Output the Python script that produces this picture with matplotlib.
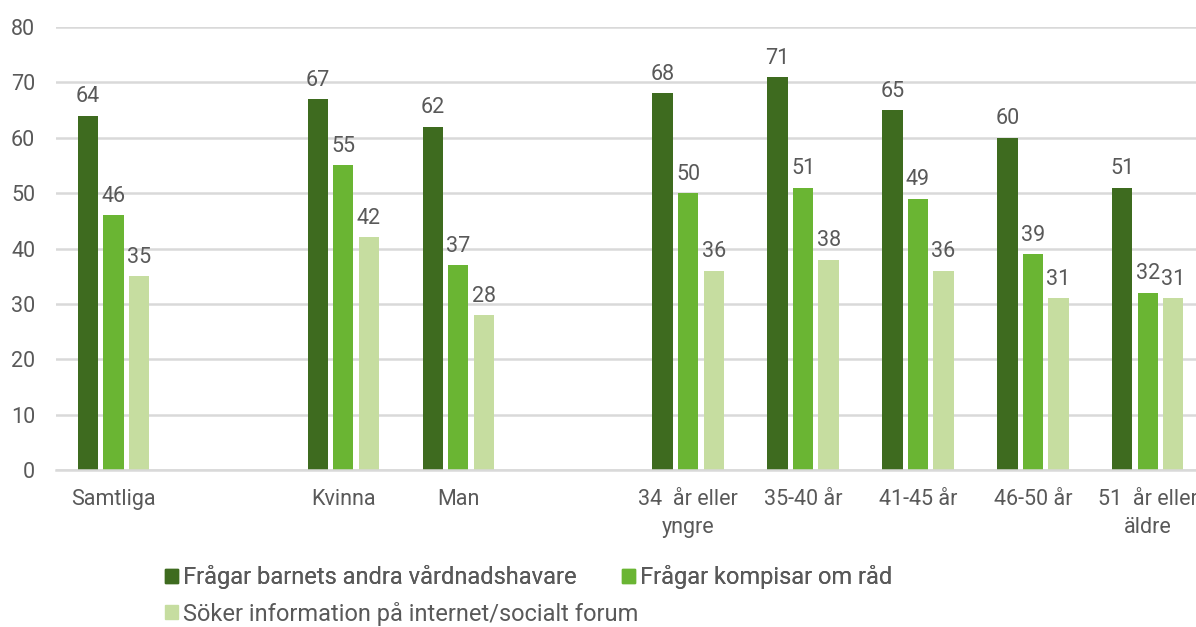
import matplotlib
matplotlib.use("Agg")
import matplotlib.pyplot as plt
from matplotlib.patches import Patch
import numpy as np

categories = ["Samtliga", "", "Kvinna", "Man", "", "34  år eller\nyngre", "35-40 år",
              "41-45 år", "46-50 år", "51  år eller\näldre"]
series_names = ["Frågar barnets andra vårdnadshavare", "Frågar kompisar om råd",
                "Söker information på internet/socialt forum"]
s1 = [64, None, 67, 62, None, 68, 71, 65, 60, 51]
s2 = [46, None, 55, 37, None, 50, 51, 49, 39, 32]
s3 = [35, None, 42, 28, None, 36, 38, 36, 31, 31]
colors = ["#3e6b1f", "#6ab533", "#c6dda0"]
yticks = [0, 10, 20, 30, 40, 50, 60, 70, 80]

plt.rcParams['font.family'] = ['Roboto', 'DejaVu Sans']
txt = "#595959"
fs = 15.5

fig = plt.figure(figsize=(11.96, 6.27), dpi=100)
ax = fig.add_axes([0.0468, 0.2504, 0.961, 0.7065])

x = np.arange(len(categories))
step = 0.222
width = 0.176
for i, (vals, c) in enumerate(zip([s1, s2, s3], colors)):
    for xi, v in zip(x, vals):
        if v is None:
            continue
        xp = xi + (i - 1) * step
        ax.bar(xp, v, width=width, color=c, zorder=3)
        ax.annotate(f"{v}", (xp, v), xytext=(0, 6), textcoords="offset points",
                    ha="center", va="bottom", fontsize=fs, color=txt, zorder=4)

ax.set_xlim(-0.5, len(categories) - 0.5)
ax.set_ylim(0, 80)
ax.set_yticks(yticks)
ax.set_yticklabels([str(t) for t in yticks])
ax.set_xticks(x)
ax.set_xticklabels(categories, linespacing=1.4)
ax.tick_params(axis="y", length=0, pad=15, labelsize=fs, labelcolor=txt)
ax.tick_params(axis="x", length=0, pad=14, labelsize=fs, labelcolor=txt)
ax.grid(axis="y", color="#d9d9d9", linewidth=1.8, zorder=0)
for s in ["top", "right", "left"]:
    ax.spines[s].set_visible(False)
ax.spines["bottom"].set_color("#d9d9d9")
ax.spines["bottom"].set_linewidth(1.8)
ax.spines["bottom"].set_zorder(5)

handles = [Patch(color=c) for c in colors]
common = dict(frameon=False, fontsize=17, handlelength=0.55, handleheight=0.55,
              handletextpad=0.2, borderaxespad=0, borderpad=0)
leg1 = fig.legend(handles[:2], series_names[:2], ncol=2, loc="center left",
                  bbox_to_anchor=(0.138, 0.0797), columnspacing=1.95, **common)
fig.add_artist(leg1)
leg2 = fig.legend(handles[2:], series_names[2:], ncol=1, loc="center left",
                  bbox_to_anchor=(0.138, 0.0215), **common)
for lg in (leg1, leg2):
    for t in lg.get_texts():
        t.set_color(txt)

fig.savefig("out.png", dpi=100)
